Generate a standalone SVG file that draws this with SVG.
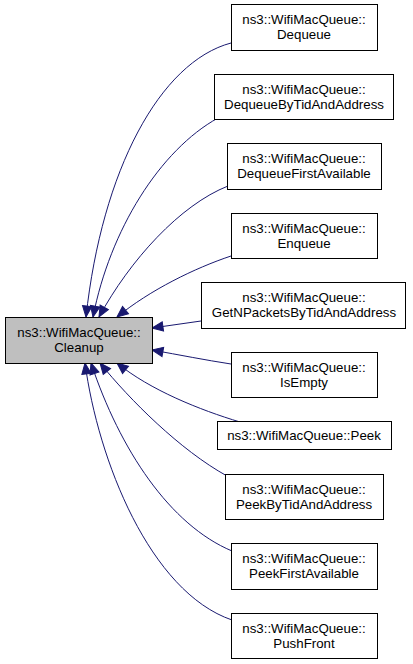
<svg xmlns="http://www.w3.org/2000/svg" width="413" height="664" viewBox="0 0 413 664">
<style>
.box{fill:#ffffff;stroke:#000000;stroke-width:1}
.focus{fill:#bfbfbf;stroke:#000000;stroke-width:1}
text{font-family:"Liberation Sans",Arial,Helvetica,sans-serif;font-size:13.3px;fill:#000000;text-anchor:middle}
.edge{fill:none;stroke:#191970;stroke-width:1;marker-end:url(#arr)}
</style>
<defs>
<marker id="arr" markerUnits="userSpaceOnUse" markerWidth="14" markerHeight="12" refX="12" refY="6" orient="auto" viewBox="0 0 14 12">
<path d="M1,1.3 L12,6 L1,10.7 z" fill="#191970" stroke="#191970" stroke-width="1"/>
</marker>
</defs>
<rect width="413" height="664" fill="#ffffff"/>
<g id="edges">
<path class="edge" d="M231,43 C160,62 102,170 86,317"/>
<path class="edge" d="M218,118 C160,150 110,230 93,317"/>
<path class="edge" d="M228,186 C180,205 130,260 99,317"/>
<path class="edge" d="M231,256 C195,268 150,290 117,317"/>
<path class="edge" d="M201,321 L152,328"/>
<path class="edge" d="M231,364 C205,360 180,355 152,350"/>
<path class="edge" d="M240,422 C200,410 150,390 117,363"/>
<path class="edge" d="M227,476 C180,450 130,400 100,363"/>
<path class="edge" d="M232,551 C170,525 120,450 91,363"/>
<path class="edge" d="M232,620 C150,592 98,460 85,363"/>
</g>
<g id="cleanup">
<rect class="focus" x="5.5" y="317.5" width="147" height="46"/>
<text x="79" y="337">ns3::WifiMacQueue::</text>
<text x="79" y="352">Cleanup</text>
</g>
<g id="dequeue">
<rect class="box" x="231.5" y="4.5" width="146" height="46"/>
<text x="304" y="24">ns3::WifiMacQueue::</text>
<text x="304" y="39">Dequeue</text>
</g>
<g id="dequeueByTid">
<rect class="box" x="214.5" y="74.5" width="179" height="45"/>
<text x="304" y="94">ns3::WifiMacQueue::</text>
<text x="304" y="109">DequeueByTidAndAddress</text>
</g>
<g id="dequeueFirst">
<rect class="box" x="227.5" y="143.5" width="154" height="46"/>
<text x="304" y="163">ns3::WifiMacQueue::</text>
<text x="304" y="178">DequeueFirstAvailable</text>
</g>
<g id="enqueue">
<rect class="box" x="231.5" y="213.5" width="146" height="45"/>
<text x="304" y="233">ns3::WifiMacQueue::</text>
<text x="304" y="248">Enqueue</text>
</g>
<g id="getNPackets">
<rect class="box" x="201.5" y="282.5" width="204" height="46"/>
<text x="304" y="302">ns3::WifiMacQueue::</text>
<text x="304" y="317">GetNPacketsByTidAndAddress</text>
</g>
<g id="isEmpty">
<rect class="box" x="231.5" y="352.5" width="146" height="45"/>
<text x="304" y="372">ns3::WifiMacQueue::</text>
<text x="304" y="387">IsEmpty</text>
</g>
<g id="peek">
<rect class="box" x="217.5" y="421.5" width="174" height="28"/>
<text x="304" y="440">ns3::WifiMacQueue::Peek</text>
</g>
<g id="peekByTid">
<rect class="box" x="225.5" y="474.5" width="158" height="45"/>
<text x="304" y="494">ns3::WifiMacQueue::</text>
<text x="304" y="509">PeekByTidAndAddress</text>
</g>
<g id="peekFirst">
<rect class="box" x="231.5" y="543.5" width="146" height="46"/>
<text x="304" y="563">ns3::WifiMacQueue::</text>
<text x="304" y="578">PeekFirstAvailable</text>
</g>
<g id="pushFront">
<rect class="box" x="231.5" y="613.5" width="146" height="45"/>
<text x="304" y="633">ns3::WifiMacQueue::</text>
<text x="304" y="648">PushFront</text>
</g>
</svg>
